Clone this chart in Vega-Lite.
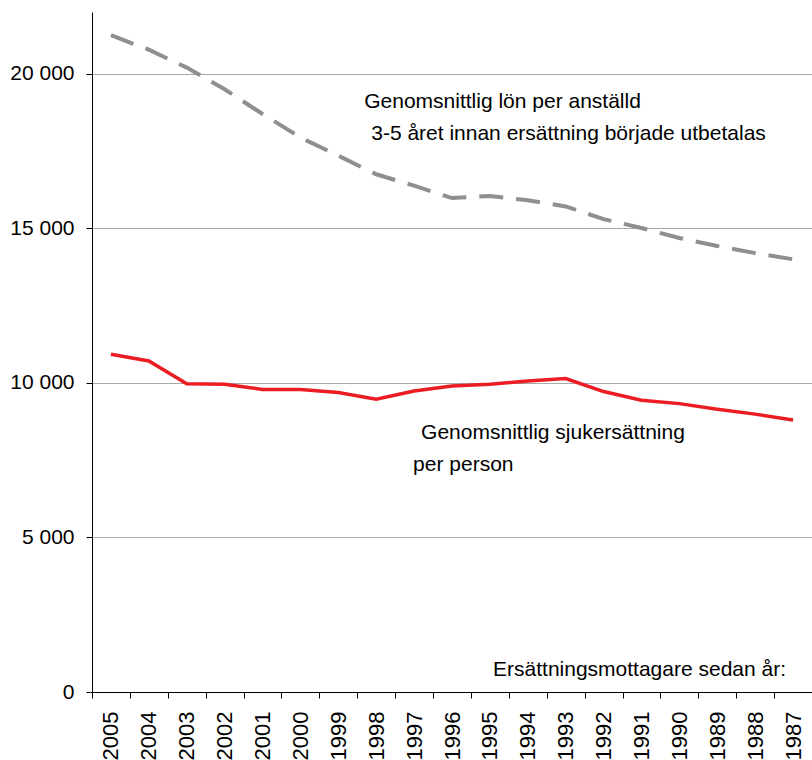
{
  "$schema": "https://vega.github.io/schema/vega-lite/v6.json",
  "autosize": "none",
  "width": 720,
  "height": 680,
  "padding": {"left": 92, "top": 12, "right": 0, "bottom": 68},
  "background": "white",
  "config": {
    "font": "Liberation Sans",
    "view": {"stroke": null},
    "axis": {"labelFont": "Liberation Sans", "labelFontSize": 21, "labelColor": "#000000", "domainColor": "#000000", "tickColor": "#000000", "tickSize": 6, "title": null}
  },
  "datasets": {
    "series": [
      {"year": "2005", "lon": 21250, "sjuk": 10930},
      {"year": "2004", "lon": 20780, "sjuk": 10710},
      {"year": "2003", "lon": 20200, "sjuk": 9970},
      {"year": "2002", "lon": 19500, "sjuk": 9960},
      {"year": "2001", "lon": 18700, "sjuk": 9790},
      {"year": "2000", "lon": 17940, "sjuk": 9790},
      {"year": "1999", "lon": 17350, "sjuk": 9690},
      {"year": "1998", "lon": 16750, "sjuk": 9470},
      {"year": "1997", "lon": 16380, "sjuk": 9740},
      {"year": "1996", "lon": 15980, "sjuk": 9900},
      {"year": "1995", "lon": 16050, "sjuk": 9960},
      {"year": "1994", "lon": 15910, "sjuk": 10060},
      {"year": "1993", "lon": 15710, "sjuk": 10140},
      {"year": "1992", "lon": 15300, "sjuk": 9720},
      {"year": "1991", "lon": 15010, "sjuk": 9440},
      {"year": "1990", "lon": 14690, "sjuk": 9330},
      {"year": "1989", "lon": 14430, "sjuk": 9150},
      {"year": "1988", "lon": 14200, "sjuk": 8990},
      {"year": "1987", "lon": 14000, "sjuk": 8800}
    ],
    "notes": [
      {"year": "1998", "value": 18890, "label": "Genomsnittlig lön per anställd", "kind": "a"},
      {"year": "1998", "value": 17864, "label": "3-5 året innan ersättning började utbetalas", "kind": "b"},
      {"year": "1997", "value": 8178, "label": "Genomsnittlig sjukersättning", "kind": "c"},
      {"year": "1997", "value": 7152, "label": "per person", "kind": "d"},
      {"year": "1987", "value": 518, "label": "Ersättningsmottagare sedan år:", "kind": "e"}
    ]
  },
  "encoding": {
    "x": {
      "field": "year", "type": "ordinal", "sort": "descending",
      "scale": {"type": "band", "paddingInner": 0, "paddingOuter": 0},
      "axis": {"labelAngle": -90, "labelPadding": 13, "labelFontSize": 22, "tickBand": "extent", "grid": false, "domainWidth": 1}
    }
  },
  "layer": [
    {
      "data": {"name": "series"},
      "mark": {"type": "line", "color": "#8f8f8f", "strokeWidth": 4, "strokeDash": [24, 13], "strokeCap": "butt"},
      "encoding": {
        "y": {
          "field": "lon", "type": "quantitative",
          "scale": {"domain": [0, 22000], "nice": false},
          "axis": {"values": [0, 5000, 10000, 15000, 20000], "labelExpr": "datum.value >= 1000 ? floor(datum.value / 1000) + ' 000' : '0'", "labelPadding": 12, "grid": true, "gridColor": "#a8a8a8", "gridWidth": 1}
        }
      }
    },
    {
      "data": {"name": "series"},
      "mark": {"type": "line", "color": "#ec1c24", "strokeWidth": 3.5},
      "encoding": {"y": {"field": "sjuk", "type": "quantitative"}}
    },
    {
      "data": {"name": "notes"},
      "transform": [{"filter": "datum.kind === 'a'"}],
      "mark": {"type": "text", "align": "left", "baseline": "alphabetic", "dx": -12, "fontSize": 21, "color": "#000000"},
      "encoding": {"y": {"field": "value", "type": "quantitative"}, "text": {"field": "label"}}
    },
    {
      "data": {"name": "notes"},
      "transform": [{"filter": "datum.kind === 'b'"}],
      "mark": {"type": "text", "align": "left", "baseline": "alphabetic", "dx": -5, "fontSize": 21, "color": "#000000"},
      "encoding": {"y": {"field": "value", "type": "quantitative"}, "text": {"field": "label"}}
    },
    {
      "data": {"name": "notes"},
      "transform": [{"filter": "datum.kind === 'c'"}],
      "mark": {"type": "text", "align": "left", "baseline": "alphabetic", "dx": 7, "fontSize": 21, "color": "#000000"},
      "encoding": {"y": {"field": "value", "type": "quantitative"}, "text": {"field": "label"}}
    },
    {
      "data": {"name": "notes"},
      "transform": [{"filter": "datum.kind === 'd'"}],
      "mark": {"type": "text", "align": "left", "baseline": "alphabetic", "dx": -1, "fontSize": 21, "color": "#000000"},
      "encoding": {"y": {"field": "value", "type": "quantitative"}, "text": {"field": "label"}}
    },
    {
      "data": {"name": "notes"},
      "transform": [{"filter": "datum.kind === 'e'"}],
      "mark": {"type": "text", "align": "right", "baseline": "alphabetic", "dx": -7, "fontSize": 21, "color": "#000000"},
      "encoding": {"y": {"field": "value", "type": "quantitative"}, "text": {"field": "label"}}
    }
  ]
}
